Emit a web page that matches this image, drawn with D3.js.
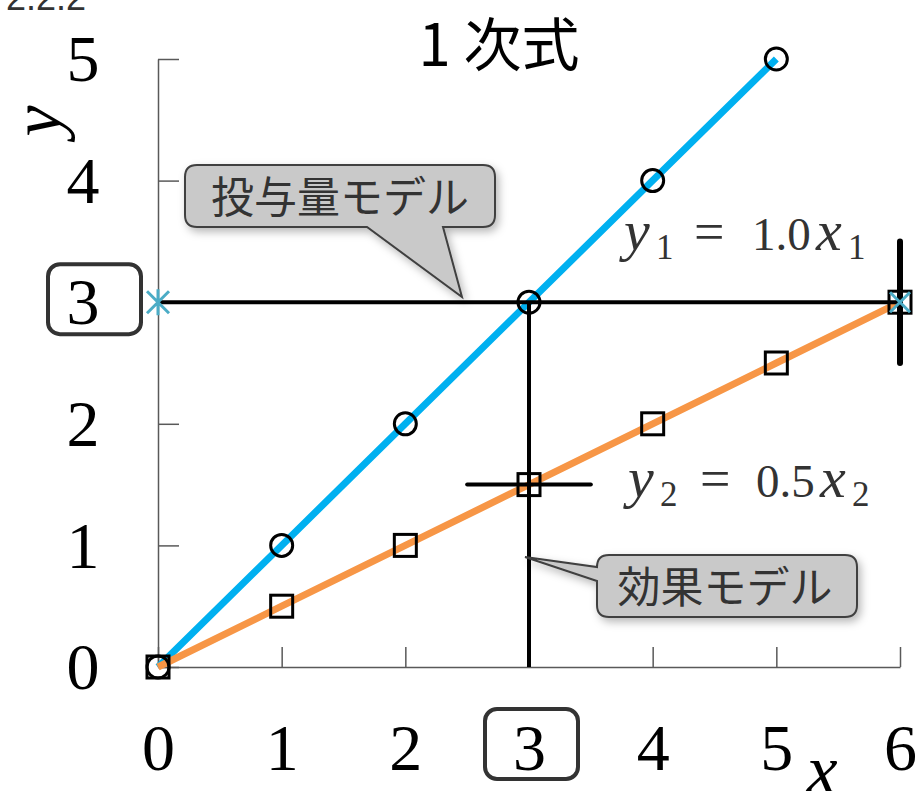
<!DOCTYPE html>
<html><head><meta charset="utf-8">
<script src="https://cdn.jsdelivr.net/npm/d3@7"></script>
<style>body{margin:0;background:#fff;overflow:hidden} svg{display:block}</style>
</head><body>
<svg id="c" width="915" height="791"></svg>
<script>
// ---- data ----
const xTicks = [0, 1, 2, 3, 4, 5, 6];
const yTicks = [0, 1, 2, 3, 4, 5];
const dose = [0, 1, 2, 3, 4, 5];          // x1
const doseModel = [0, 1, 2, 3, 4, 5];     // y1 = 1.0 x1
const effectX = [0, 1, 2, 3, 4, 5, 6];    // x2
const effectModel = [0, 0.5, 1, 1.5, 2, 2.5, 3]; // y2 = 0.5 x2
const pickX = 3, pickY = 3, pickY2 = 1.5, endX = 6;
const title = "1 次式";
const callout1 = "投与量モデル";
const callout2 = "効果モデル";

const svg = d3.select('#c');
const x = d3.scaleLinear().domain([0, 6]).range([158, 900]);
const y = d3.scaleLinear().domain([0, 5]).range([667, 59]);
const axisColor = '#595959';
const serif = "'Liberation Serif', 'DejaVu Serif', serif";
const cjk = "'Noto Sans CJK JP', 'Noto Sans', sans-serif";

const defs = svg.append('defs');
const f = defs.append('filter').attr('id', 'sh').attr('x', '-20%').attr('y', '-20%').attr('width', '140%').attr('height', '160%');
f.append('feDropShadow').attr('dx', 3).attr('dy', 4).attr('stdDeviation', 4).attr('flood-color', '#000').attr('flood-opacity', 0.28);

// top-left fragment
svg.append('text').attr('x', 86).attr('y', 10).attr('text-anchor', 'end')
  .attr('font-family', "'Liberation Sans', Arial, sans-serif").attr('font-size', 36).attr('fill', '#333').text('2.2.2');

// title
svg.append('text').attr('x', 499).attr('y', 66).attr('text-anchor', 'middle')
  .attr('font-family', cjk).attr('font-size', 58).attr('fill', '#000').text(title);

// axes
const gx = svg.append('g').attr('transform', `translate(0,${y(0)})`)
  .call(d3.axisBottom(x).tickValues(xTicks).tickSizeInner(-20).tickSizeOuter(0).tickFormat(d3.format('d')));
gx.select('.domain').attr('stroke', axisColor).attr('stroke-width', 1.5);
gx.selectAll('.tick line').attr('stroke', axisColor).attr('stroke-width', 1.5);
gx.selectAll('.tick text').attr('y', 103).attr('dy', 0).attr('font-family', serif).attr('font-size', 66).attr('fill', '#000');

const gy = svg.append('g').attr('transform', `translate(${x(0)},0)`)
  .call(d3.axisLeft(y).tickValues(yTicks).tickSizeInner(-21).tickSizeOuter(0).tickFormat(d3.format('d')));
gy.select('.domain').attr('stroke', axisColor).attr('stroke-width', 1.5);
gy.selectAll('.tick line').attr('stroke', axisColor).attr('stroke-width', 1.5);
gy.selectAll('.tick text').attr('x', -75).attr('dy', '0.33em').attr('text-anchor', 'middle')
  .attr('font-family', serif).attr('font-size', 66).attr('fill', '#000');

// highlight boxes around "3"
svg.append('rect').attr('x', x(pickX) - 44).attr('y', 709).attr('width', 93).attr('height', 70)
  .attr('rx', 12).attr('fill', 'none').attr('stroke', '#333').attr('stroke-width', 4);
svg.append('rect').attr('x', 48).attr('y', y(pickY) - 38).attr('width', 93).attr('height', 70)
  .attr('rx', 12).attr('fill', 'none').attr('stroke', '#333').attr('stroke-width', 4);

// axis titles
svg.append('text').attr('transform', 'translate(60,121) rotate(-90)').attr('text-anchor', 'middle')
  .attr('font-family', serif).attr('font-style', 'italic').attr('font-size', 70).attr('fill', '#000').text('y');
svg.append('text').attr('x', 822).attr('y', 793).attr('text-anchor', 'middle')
  .attr('font-family', serif).attr('font-style', 'italic').attr('font-size', 70).attr('fill', '#000').text('x');

// series lines
const line = d3.line().x(d => x(d[0])).y(d => y(d[1]));
const s1 = dose.map((d, i) => [d, doseModel[i]]);
const s2 = effectX.map((d, i) => [d, effectModel[i]]);
svg.append('path').attr('d', line(s1)).attr('fill', 'none').attr('stroke', '#00B0F0').attr('stroke-width', 7);
svg.append('path').attr('d', line(s2)).attr('fill', 'none').attr('stroke', '#F79646').attr('stroke-width', 7);

// reference lines
svg.append('path').attr('d', line([[0, pickY], [endX, pickY]])).attr('stroke', '#000').attr('stroke-width', 4);
svg.append('path').attr('d', line([[pickX, pickY], [pickX, 0]])).attr('stroke', '#000').attr('stroke-width', 4);
svg.append('path').attr('d', line([[pickX - 0.5, pickY2], [pickX + 0.5, pickY2]])).attr('stroke', '#000').attr('stroke-width', 4).attr('stroke-linecap', 'round');
svg.append('path').attr('d', line([[endX, pickY - 0.5], [endX, pickY + 0.5]])).attr('stroke', '#000').attr('stroke-width', 6).attr('stroke-linecap', 'round');

// markers
svg.selectAll('rect.sq').data(s2).join('rect').attr('class', 'sq')
  .attr('x', d => x(d[0]) - 11).attr('y', d => y(d[1]) - 11).attr('width', 22).attr('height', 22)
  .attr('fill', 'none').attr('stroke', '#000').attr('stroke-width', 3);
svg.selectAll('circle.ci').data(s1).join('circle').attr('class', 'ci')
  .attr('cx', d => x(d[0])).attr('cy', d => y(d[1])).attr('r', 11)
  .attr('fill', 'none').attr('stroke', '#000').attr('stroke-width', 3);

// asterisk at (0,3)
const ax = x(0), ay = y(pickY);
const mc = '#4BACC6';
svg.append('path').attr('d', `M${ax},${ay - 13}V${ay + 13}M${ax - 11},${ay - 11}L${ax + 11},${ay + 11}M${ax - 11},${ay + 11}L${ax + 11},${ay - 11}`)
  .attr('stroke', mc).attr('stroke-width', 3);
// x marker at (6,3)
const bx = x(endX), by = y(pickY);
svg.append('path').attr('d', `M${bx - 10},${by - 10}L${bx + 10},${by + 10}M${bx - 10},${by + 10}L${bx + 10},${by - 10}`)
  .attr('stroke', mc).attr('stroke-width', 3);

// callouts
const cFill = '#c9c9c9', cStroke = '#404040';
svg.append('path').attr('d', 'M197,165H483Q495,165 495,177V215Q495,227 483,227H443L462,297L367,227H197Q185,227 185,215V177Q185,165 197,165Z')
  .attr('fill', cFill).attr('stroke', cStroke).attr('stroke-width', 2).attr('filter', 'url(#sh)');
svg.append('text').attr('x', 340).attr('y', 213).attr('text-anchor', 'middle')
  .attr('font-family', cjk).attr('font-size', 43).attr('fill', '#333').text(callout1);

svg.append('path').attr('d', 'M609,555H845Q857,555 857,567V605Q857,617 845,617H609Q597,617 597,605V581L525,557L597,567Q597,555 609,555Z')
  .attr('fill', cFill).attr('stroke', cStroke).attr('stroke-width', 2).attr('filter', 'url(#sh)');
svg.append('text').attr('x', 725).attr('y', 603).attr('text-anchor', 'middle')
  .attr('font-family', cjk).attr('font-size', 43).attr('fill', '#333').text(callout2);

// equations: [x, text, italic, subscript, size]
function eq(pieces, base) {
  const g = svg.append('g');
  pieces.forEach(p => {
    g.append('text').attr('x', p[0]).attr('y', base + (p[3] ? 9 : 0))
      .attr('font-family', serif).attr('font-style', p[2] ? 'italic' : 'normal')
      .attr('font-size', p[4]).attr('fill', '#333').text(p[1]);
  });
}
eq([[624, 'y', true, false, 58], [656, '1', false, true, 35], [694, '=', false, false, 54], [752, '1.0', false, false, 47], [816, 'x', true, false, 58], [848, '1', false, true, 35]], 250);
eq([[628, 'y', true, false, 58], [660, '2', false, true, 35], [700, '=', false, false, 54], [756, '0.5', false, false, 47], [820, 'x', true, false, 58], [852, '2', false, true, 35]], 497);
</script>
</body></html>
